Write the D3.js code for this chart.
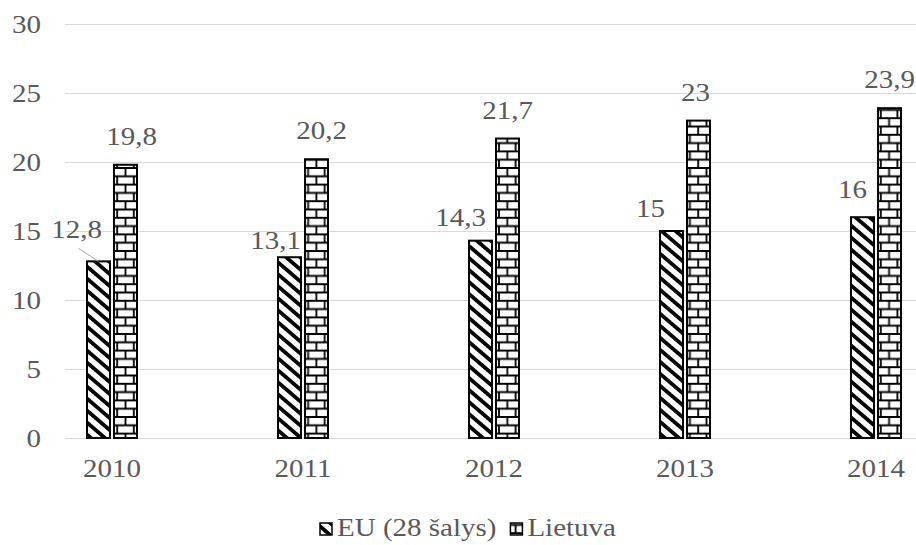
<!DOCTYPE html>
<html>
<head>
<meta charset="utf-8">
<script src="https://cdn.jsdelivr.net/npm/d3@7"></script>
<style>
  html, body { margin: 0; padding: 0; background: #ffffff; }
  svg { display: block; }
  svg text { font-family: "Liberation Serif", "Times New Roman", serif; fill: #595959; }
</style>
</head>
<body>
<svg id="chart" width="916" height="545"></svg>
<script>
// Data
const years = ["2010", "2011", "2012", "2013", "2014"];
const seriesNames = ["EU (28 šalys)", "Lietuva"];
const euValues = [12.8, 13.1, 14.3, 15, 16];
const ltValues = [19.8, 20.2, 21.7, 23, 23.9];
const yTicks = [0, 5, 10, 15, 20, 25, 30];

// Label nudges (px): EU labels sit up-left of their bars, Lietuva labels above
const euLabelNudge = [[-22, -23], [-14, -8], [-20, -15], [-21, -14], [-10, -19]];
const ltLabelNudge = [[6, -20], [5, -20], [0, -20], [-3, -20], [0, -20]];

const W = 916, H = 545;
const textStretch = 1.16;          // horizontal stretch applied to all text
const fontSize = 25;
const FONT = '"Liberation Serif", "Times New Roman", serif';
const svg = d3.select("#chart");

// Fill patterns
const defs = svg.append("defs");
const stripes = defs.append("pattern")
  .attr("id", "pat-stripes").attr("patternUnits", "userSpaceOnUse")
  .attr("width", 14).attr("height", 12);
stripes.append("rect").attr("width", 14).attr("height", 12).attr("fill", "#fff");
stripes.append("path")
  .attr("d", "M-14,-12L28,24M0,-12L42,24M-28,-12L14,24")
  .attr("stroke", "#000").attr("stroke-width", 3.8).attr("fill", "none");

const bw = 16.6, bh = 8.3;
const brick = defs.append("pattern")
  .attr("id", "pat-brick").attr("patternUnits", "userSpaceOnUse")
  .attr("width", bw).attr("height", bh * 2).attr("x", 1).attr("y", 2);
brick.append("rect").attr("width", bw).attr("height", bh * 2).attr("fill", "#fff");
brick.append("path")
  .attr("d", `M0,0H${bw}M0,${bh}H${bw}M0,${bh*2}H${bw}M${bw/2},0V${bh}M0,${bh}V${bh*2}M${bw},${bh}V${bh*2}`)
  .attr("stroke", "#000").attr("stroke-width", 1.8).attr("fill", "none");

const fills = ["url(#pat-stripes)", "url(#pat-brick)"];

// Scales
const plotLeft = 65, plotRight = 916;
const y = d3.scaleLinear().domain([0, 30]).range([438, 24]);
const x = d3.scaleBand().domain(years).range([16.5, 971.5]);
const xc = d => x(d) + x.bandwidth() / 2;
const xs = d3.scaleBand().domain([0, 1]).range([-25, 25]).paddingInner(4 / 27);

// Helper: place text with a horizontal stretch
function stretch(sel) {
  sel.each(function () {
    const t = d3.select(this);
    const tx = +t.attr("data-x"), ty = +t.attr("data-y");
    t.attr("transform", `translate(${tx},${ty}) scale(${textStretch},1)`)
      .style("font-family", FONT)
      .style("font-size", fontSize + "px")
      .style("fill", "#595959");
  });
}

// Gridlines + y axis
const yAxis = svg.append("g")
  .attr("transform", `translate(${plotLeft},0)`)
  .call(d3.axisLeft(y).tickValues(yTicks).tickSize(-(plotRight - plotLeft)).tickPadding(25));
yAxis.attr("font-family", null).attr("font-size", null);
yAxis.select(".domain").remove();
yAxis.selectAll(".tick line").attr("stroke", "#d9d9d9").attr("stroke-width", 1);
yAxis.selectAll(".tick text")
  .attr("x", null).attr("dy", null).attr("fill", null)
  .attr("data-x", -24).attr("data-y", 8.5)
  .call(stretch);

// x axis labels
const xAxis = svg.append("g")
  .attr("transform", `translate(0,${y(0)})`)
  .call(d3.axisBottom(x).tickSize(0).tickPadding(0));
xAxis.attr("font-family", null).attr("font-size", null);
xAxis.select(".domain").remove();
xAxis.selectAll(".tick text")
  .attr("y", null).attr("dy", null).attr("fill", null)
  .attr("data-x", 0).attr("data-y", 39)
  .call(stretch);

// Bars
const series = [euValues, ltValues];
series.forEach((vals, si) => {
  svg.append("g").selectAll("rect")
    .data(vals.map((v, i) => ({ year: years[i], v })))
    .join("rect")
    .attr("x", d => xc(d.year) + xs(si))
    .attr("width", xs.bandwidth())
    .attr("y", d => y(d.v))
    .attr("height", d => y(0) - y(d.v))
    .attr("fill", fills[si])
    .attr("stroke", "#000").attr("stroke-width", 2);
});

const fmt = v => String(v).replace(".", ",");

// Lietuva value labels above bars
svg.append("g").selectAll("text")
  .data(ltValues.map((v, i) => ({ year: years[i], v, i })))
  .join("text")
  .attr("text-anchor", "middle")
  .attr("data-x", d => xc(d.year) + xs(1) + xs.bandwidth() / 2 + ltLabelNudge[d.i][0])
  .attr("data-y", d => y(d.v) + ltLabelNudge[d.i][1])
  .text(d => fmt(d.v))
  .call(stretch);

// EU value labels, pushed up-left of bars
const euData = euValues.map((v, i) => ({ year: years[i], v, i }));
svg.append("g").selectAll("text")
  .data(euData)
  .join("text")
  .attr("text-anchor", "middle")
  .attr("data-x", d => xc(d.year) + xs(0) + xs.bandwidth() / 2 + euLabelNudge[d.i][0])
  .attr("data-y", d => y(d.v) + euLabelNudge[d.i][1])
  .text(d => fmt(d.v))
  .call(stretch);

// Leader line for the first EU label
{
  const d = euData[0];
  const bx = xc(d.year) + xs(0) + xs.bandwidth() / 2;
  svg.append("line")
    .attr("x1", bx).attr("y1", y(d.v))
    .attr("x2", bx - 20).attr("y2", y(d.v) - 13)
    .attr("stroke", "#a6a6a6").attr("stroke-width", 1);
}

// Legend
const legend = svg.append("g");
let lx = 320;
const ly = 536;
seriesNames.forEach((name, si) => {
  legend.append("rect")
    .attr("x", lx).attr("y", ly - 13).attr("width", 12).attr("height", 12)
    .attr("fill", fills[si]).attr("stroke", "#000").attr("stroke-width", 1.5);
  const t = legend.append("text")
    .attr("data-x", lx + 17).attr("data-y", ly)
    .text(name)
    .call(stretch);
  const w = t.node().getComputedTextLength() * textStretch;
  lx = lx + 17 + w + 14;
});
</script>
</body>
</html>
